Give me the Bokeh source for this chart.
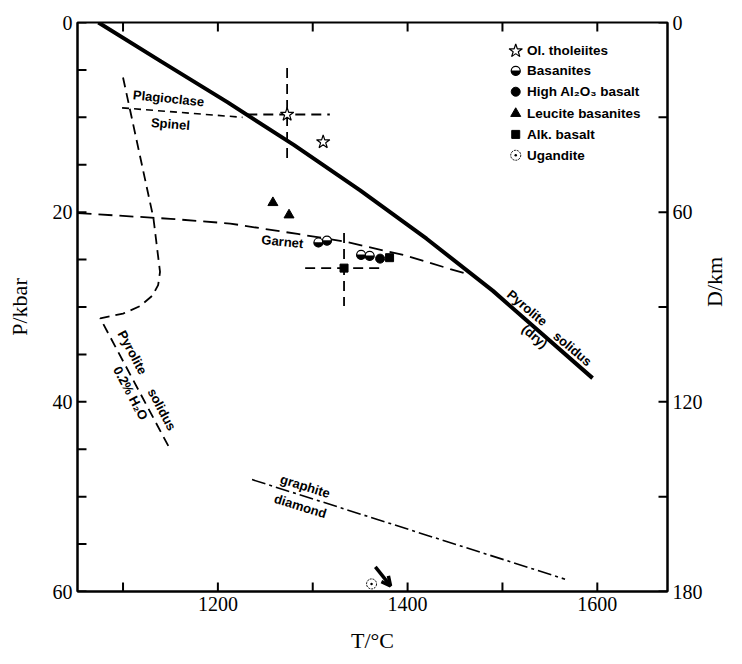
import math
from bokeh.plotting import figure
from bokeh.models import Range1d, LinearAxis, FixedTicker, Arrow, OpenHead, ColumnDataSource
from bokeh.core.properties import value
from bokeh.embed import file_html
from bokeh.resources import INLINE

# ---------------- data ----------------
x_major = [1200, 1400, 1600]
x_minor = [1100, 1300, 1500]
p_major = [0, 20, 40, 60]
p_minor = [5, 10, 15, 25, 30, 35, 45, 50, 55]
d_major = [0, 60, 120, 180]
d_minor = [30, 90, 150]
KM_PER_KBAR = 3.0

solidus_dry_T = [1074, 1140, 1210, 1280, 1350, 1420, 1490, 1595]
solidus_dry_P = [0.0, 4.1, 8.4, 12.9, 17.7, 22.8, 28.3, 37.5]

garnet_T = [1052, 1150, 1213, 1284, 1334, 1399, 1445, 1466]
garnet_P = [20.1, 20.7, 21.2, 22.3, 23.1, 24.6, 26.0, 26.6]

wet_T = [1100, 1132, 1139, 1137, 1131, 1118, 1100, 1076, 1148]
wet_P = [5.8, 20.6, 26.3, 27.7, 28.8, 29.9, 30.7, 31.2, 44.7]

plag_T = [1099, 1226]
plag_P = [9.0, 10.0]

graphite_T = [1236, 1566]
graphite_P = [48.2, 58.7]

thol_T = [1273, 1311]
thol_P = [9.7, 12.6]
bas_T = [1306, 1315, 1351, 1360]
bas_P = [23.2, 23.0, 24.5, 24.6]
hial_T = [1371]
hial_P = [24.9]
leuc_T = [1258, 1275]
leuc_P = [19.0, 20.3]
alk_T = [1381, 1333]
alk_P = [24.8, 25.9]
ug_T = [1362]
ug_P = [59.2]

err_T = [1273, 1333]
err_P = [9.7, 25.9]
err_T_lo = [1231, 1292]
err_T_hi = [1318, 1376]
err_P_lo = [4.8, 22.2]
err_P_hi = [14.3, 29.9]

arrow_T = [1366, 1382]
arrow_P = [57.4, 59.4]

legend_labels = ["Ol. tholeiites", "Basanites", "High Al\u2082O\u2083 basalt",
                 "Leucite basanites", "Alk. basalt", "Ugandite"]

curve_labels = ["Plagioclase", "Spinel", "Garnet", "Pyrolite", "solidus", "(dry)",
                "Pyrolite", "solidus", "0.2% H\u2082O", "graphite", "diamond"]

# ---------------- figure ----------------
T0, T1 = 1052, 1674
P0, P1 = 60, 0
FRAME_W, FRAME_H = 591, 569
p = figure(width=742, height=664, x_range=Range1d(T0, T1), y_range=Range1d(P0, P1),
           x_axis_location=None, y_axis_location=None,
           output_backend="svg", toolbar_location=None,
           min_border_left=77, min_border_right=74, min_border_top=22, min_border_bottom=73)
p.grid.visible = False
p.outline_line_color = "black"
p.outline_line_width = 2
p.background_fill_color = "white"
p.border_fill_color = "white"

p.extra_y_ranges = {"km": Range1d(180, 0)}
bottom_ax = LinearAxis(axis_label="T/\u00b0C")
left_ax = LinearAxis(axis_label="P/kbar")
right_ax = LinearAxis(y_range_name="km", axis_label="D/km")
p.add_layout(bottom_ax, "below")
p.add_layout(left_ax, "left")
p.add_layout(right_ax, "right")

bottom_ax.ticker = FixedTicker(ticks=x_major, minor_ticks=x_minor)
left_ax.ticker = FixedTicker(ticks=p_major, minor_ticks=p_minor)
right_ax.ticker = FixedTicker(ticks=d_major, minor_ticks=d_minor)

for ax in [bottom_ax, left_ax, right_ax]:
    ax.axis_line_width = 2
    ax.major_tick_in = 0
    ax.major_tick_out = 0
    ax.minor_tick_in = 0
    ax.minor_tick_out = 0
    ax.major_tick_line_color = None
    ax.minor_tick_line_color = None
    ax.major_label_text_font = "Liberation Serif"
    ax.major_label_text_font_size = "20px"
    ax.major_label_text_color = "black"
    ax.major_label_standoff = 5
    ax.axis_label_text_font = "Liberation Serif"
    ax.axis_label_text_font_size = "22px"
    ax.axis_label_text_font_style = "normal"
    ax.axis_label_text_color = "black"

bottom_ax.axis_label_standoff = 14
left_ax.axis_label_standoff = 18
right_ax.axis_label_standoff = 9
right_ax.axis_label_orientation = math.pi / 2

# inward tick marks (9 px long) built from the tick lists
tick_dT = 9 / (FRAME_W / (T1 - T0))
tick_dP = 9 / (FRAME_H / (P0 - P1))
xt = x_major + x_minor
p.segment(x0=xt, y0=[P0] * len(xt), x1=xt, y1=[P0 - tick_dP] * len(xt),
          line_color="black", line_width=2)
p.segment(x0=xt, y0=[P1] * len(xt), x1=xt, y1=[P1 + tick_dP] * len(xt),
          line_color="black", line_width=2)
yt = p_major + p_minor
p.segment(x0=[T0] * len(yt), y0=yt, x1=[T0 + tick_dT] * len(yt), y1=yt,
          line_color="black", line_width=2)
dt = [d / KM_PER_KBAR for d in d_major + d_minor]
p.segment(x0=[T1] * len(dt), y0=dt, x1=[T1 - tick_dT] * len(dt), y1=dt,
          line_color="black", line_width=2)

# ---------------- curves ----------------
p.line(solidus_dry_T, solidus_dry_P, line_color="black", line_width=4)
p.line(garnet_T, garnet_P, line_color="black", line_width=1.8, line_dash="14 7")
p.line(wet_T, wet_P, line_color="black", line_width=1.8, line_dash="10 6")
p.line(plag_T, plag_P, line_color="black", line_width=1.6, line_dash="7 5")
p.line(graphite_T, graphite_P, line_color="black", line_width=1.6, line_dash="14 4 3 4")

# error crosses
p.segment(x0=err_T_lo, y0=err_P, x1=err_T_hi, y1=err_P, line_color="black",
          line_width=1.8, line_dash="10 6")
p.segment(x0=err_T, y0=err_P_lo, x1=err_T, y1=err_P_hi, line_color="black",
          line_width=1.8, line_dash="10 6")

# ---------------- samples ----------------
def star(xs, ys):
    p.scatter(xs, ys, marker="star", size=14, fill_color="white", line_color="black", line_width=1.2)

def half(xs, ys):
    p.scatter(xs, ys, marker="circle", size=9, fill_color="white", line_color="black", line_width=1.2)
    p.wedge(x=xs, y=ys, radius=4.5, radius_units="screen", start_angle=math.pi,
            end_angle=2 * math.pi, fill_color="black", line_color="black", line_width=0.5)

def full(xs, ys):
    p.scatter(xs, ys, marker="circle", size=9, fill_color="black", line_color="black")

def tri(xs, ys):
    p.scatter(xs, ys, marker="triangle", size=10, fill_color="black", line_color="black")

def sq(xs, ys):
    p.scatter(xs, ys, marker="square", size=8, fill_color="black", line_color="black")

def ug(xs, ys):
    p.scatter(xs, ys, marker="circle_dot", size=10, fill_color="white", line_color="black",
              line_width=1, line_dash="2 1")

star(thol_T, thol_P)
half(bas_T, bas_P)
full(hial_T, hial_P)
tri(leuc_T, leuc_P)
sq(alk_T, alk_P)
ug(ug_T, ug_P)

p.add_layout(Arrow(x_start=arrow_T[0], y_start=arrow_P[0], x_end=arrow_T[1], y_end=arrow_P[1],
                   line_width=3.5, line_color="black",
                   end=OpenHead(size=9, line_width=3.5, line_color="black")))

# ---------------- legend ----------------
leg_mark_T = 1514
leg_text_T = 1526
leg_P = [3.0, 5.1, 7.3, 9.6, 11.8, 14.0]
star([leg_mark_T], [leg_P[0]])
half([leg_mark_T], [leg_P[1]])
full([leg_mark_T], [leg_P[2]])
tri([leg_mark_T], [leg_P[3]])
sq([leg_mark_T], [leg_P[4]])
ug([leg_mark_T], [leg_P[5]])
p.text(x=[leg_text_T] * len(legend_labels), y=leg_P, text=legend_labels,
       text_font=value("Liberation Sans"), text_font_style="bold", text_font_size="13.5px",
       text_align="left", text_baseline="middle", text_color="black")

# ---------------- curve labels ----------------
cl_T = [1148, 1150, 1268, 1526, 1574, 1534, 1110, 1141, 1108, 1292, 1287]
cl_P = [8.0, 10.7, 23.1, 30.1, 34.4, 33.1, 34.8, 40.8, 39.1, 48.9, 51.0]
cl_ang = [-0.1, -0.08, -0.1, -0.70, -0.70, -0.70, -1.08, -1.08, -1.08, -0.30, -0.30]
src = ColumnDataSource(dict(x=cl_T, y=cl_P, t=curve_labels, a=cl_ang))
p.text(x="x", y="y", text="t", angle="a", source=src,
       text_font=value("Liberation Sans"), text_font_style="bold", text_font_size="13px",
       text_align="center", text_baseline="middle", text_color="black")

open("out.html", "w").write(file_html(p, INLINE))
